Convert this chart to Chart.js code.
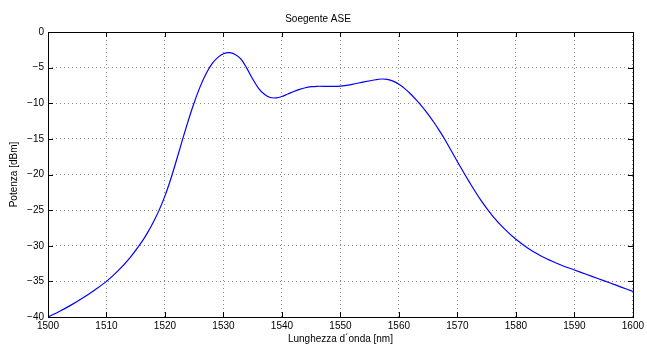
<!DOCTYPE html>
<html>
<head>
<meta charset="utf-8">
<script src="https://cdn.jsdelivr.net/npm/chart.js@4"></script>
<style>
  html, body { margin: 0; padding: 0; background: #fff; }
  #wrap { width: 647px; height: 347px; }
</style>
</head>
<body>
<div id="wrap"><canvas id="ase-chart"></canvas></div>
<script>
const wavelengths = [
  1500, 1502, 1504, 1506, 1508, 1510, 1512, 1514, 1516, 1517, 1518, 1519,
  1520, 1521, 1522, 1523, 1524, 1525, 1526, 1527, 1528, 1529, 1530, 1531,
  1532, 1533, 1534, 1535, 1536, 1537, 1538, 1539, 1540, 1541, 1542, 1543,
  1544, 1545, 1546, 1548, 1550, 1552, 1554, 1556, 1557, 1558, 1559, 1560,
  1561, 1562, 1563, 1564, 1565, 1566, 1567, 1568, 1570, 1572, 1574, 1576,
  1578, 1580, 1582, 1584, 1586, 1588, 1590, 1592, 1594, 1596, 1598, 1600
]
const powerDbm = [
  -40.0, -39.2, -38.3, -37.3, -36.2, -35.0, -33.5, -31.7, -29.5, -28.2, -26.7, -25.0,
  -23.0, -20.6, -17.9, -15.1, -12.4, -9.9, -7.7, -5.9, -4.5, -3.6, -3.05, -2.9,
  -3.15, -3.8, -5.1, -6.6, -7.9, -8.75, -9.2, -9.25, -9.05, -8.7, -8.35, -8.05,
  -7.82, -7.68, -7.62, -7.63, -7.6, -7.35, -7.0, -6.7, -6.6, -6.65, -6.9, -7.35,
  -7.95, -8.7, -9.55, -10.5, -11.55, -12.7, -13.95, -15.3, -18.2, -21.0, -23.6, -25.8,
  -27.6, -29.1, -30.3, -31.3, -32.1, -32.8, -33.4, -34.0, -34.6, -35.2, -35.8, -36.4
]
const xTicks = [1500, 1510, 1520, 1530, 1540, 1550, 1560, 1570, 1580, 1590, 1600]
const yTicks = [0, -5, -10, -15, -20, -25, -30, -35, -40]

const fontFamily = '"Liberation Sans", Arial, Helvetica, sans-serif'
Chart.defaults.font.family = fontFamily
Chart.defaults.font.size = 10
Chart.defaults.color = '#000'

// matlab style box with inward ticks on all four sides
const boxTicks = {
  id: 'boxTicks',
  afterDraw (chart) {
    const { ctx, chartArea: a, scales } = chart
    const len = 5
    ctx.save()
    ctx.strokeStyle = '#000'
    ctx.lineWidth = 1
    ctx.beginPath()
    xTicks.forEach(v => {
      const x = Math.round(scales.x.getPixelForValue(v)) + 0.5
      ctx.moveTo(x, a.bottom); ctx.lineTo(x, a.bottom - len)
      ctx.moveTo(x, a.top); ctx.lineTo(x, a.top + len)
    })
    yTicks.forEach(v => {
      const y = Math.round(scales.y.getPixelForValue(v)) + 0.5
      ctx.moveTo(a.left, y); ctx.lineTo(a.left + len, y)
      ctx.moveTo(a.right, y); ctx.lineTo(a.right - len, y)
    })
    ctx.stroke()
    ctx.strokeRect(Math.round(a.left) + 0.5, Math.round(a.top) + 0.5,
      Math.round(a.right - a.left), Math.round(a.bottom - a.top))
    ctx.restore()
  }
}

const canvas = document.getElementById('ase-chart')
new Chart(canvas, {
  type: 'line',
  data: {
    datasets: [{
      label: 'ASE',
      data: wavelengths.map((w, i) => ({ x: w, y: powerDbm[i] })),
      borderColor: '#0000ff',
      borderWidth: 1.2,
      pointRadius: 0,
      tension: 0.35,
      fill: false
    }]
  },
  options: {
    responsive: true,
    maintainAspectRatio: false,
    animation: false,
    layout: { padding: { left: 0, right: 11, top: 0, bottom: 0 } },
    plugins: {
      legend: { display: false },
      tooltip: { enabled: false },
      title: {
        display: true,
        text: 'Soegente ASE',
        font: { size: 10, weight: 'normal' },
        color: '#000',
        padding: { top: 13, bottom: 7 }
      }
    },
    scales: {
      x: {
        type: 'linear',
        min: 1500,
        max: 1600,
        afterBuildTicks: scale => { scale.ticks = xTicks.map(v => ({ value: v })) },
        afterFit: scale => { scale.height = 30 },
        ticks: { padding: 3, maxRotation: 0, autoSkip: false, callback: v => String(v) },
        grid: {
          drawTicks: false,
          color: 'rgba(0,0,0,0.45)',
          lineWidth: 1
        },
        border: { display: false, dash: [1, 3] },
        title: {
          display: true,
          text: 'Lunghezza d´onda [nm]',
          font: { size: 10 },
          padding: { top: 0, bottom: 2 }
        }
      },
      y: {
        type: 'linear',
        min: -40,
        max: 0,
        afterBuildTicks: scale => { scale.ticks = yTicks.map(v => ({ value: v })) },
        afterFit: scale => { scale.width = 48 },
        ticks: {
          padding: 4,
          callback: v => String(v).replace('-', '\u2212')
        },
        grid: {
          drawTicks: false,
          color: 'rgba(0,0,0,0.45)',
          lineWidth: 1
        },
        border: { display: false, dash: [1, 3] },
        title: {
          display: true,
          text: 'Potenza [dBm]',
          font: { size: 10 },
          padding: { top: 8, bottom: 0 }
        }
      }
    }
  },
  plugins: [boxTicks]
})
</script>
</body>
</html>
